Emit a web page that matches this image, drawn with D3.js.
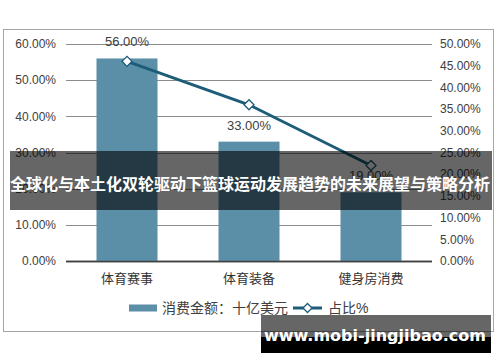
<!DOCTYPE html>
<html><head><meta charset="utf-8">
<script src="https://cdn.jsdelivr.net/npm/d3@7/dist/d3.min.js"></script>
<style>body{margin:0;background:#fff}svg{display:block}</style>
</head><body>
<svg id="c" width="500" height="362"></svg>
<script>
const categories = ["体育赛事", "体育装备", "健身房消费"];
const amountValues = [0.56, 0.33, 0.19];
const shareValues = [0.46, 0.36, 0.22];
const leftTicks = [0, 0.1, 0.2, 0.3, 0.4, 0.5, 0.6];
const rightTicks = [0, 0.05, 0.1, 0.15, 0.2, 0.25, 0.3, 0.35, 0.4, 0.45, 0.5];
const legendLabels = ["消费金额：十亿美元", "占比%"];
const titleText = "全球化与本土化双轮驱动下篮球运动发展趋势的未来展望与策略分析";
const watermarkText = "www.mobi-jingjibao.com";

const svg = d3.select("#c");
const font = "'Liberation Sans', Arial, 'Noto Sans CJK SC', sans-serif";
const barColor = "#5b8fa7", lineColor = "#1d5d78", textColor = "#404040";
const L = 66, R = 432, T = 44, B = 261;

svg.append("rect").attr("x", 3.5).attr("y", 29.5).attr("width", 490).attr("height", 302)
  .attr("fill", "#fff").attr("stroke", "#a6a6a6").attr("stroke-width", 1);

const x = d3.scaleBand().domain(categories).range([L, R]).paddingInner(0.5).paddingOuter(0.25);
const yL = d3.scaleLinear().domain([0, 0.6]).range([B, T]);
const yR = d3.scaleLinear().domain([0, 0.5]).range([B, T]);
const pct = d3.format(".2%");

// gridlines
svg.append("g").selectAll("line").data(leftTicks).join("line")
  .attr("x1", L).attr("x2", R)
  .attr("y1", d => Math.round(yL(d)) + 0.5).attr("y2", d => Math.round(yL(d)) + 0.5)
  .attr("stroke", d => d === 0 ? "#404040" : "#8c8c8c").attr("stroke-width", d => d === 0 ? 1.5 : 1);

// left axis labels
svg.append("g").selectAll("text").data(leftTicks).join("text")
  .attr("x", 56).attr("y", d => yL(d)).attr("dy", "0.35em").attr("text-anchor", "end")
  .attr("font-family", font).attr("font-size", 12).attr("fill", textColor).text(d => pct(d));

// right axis labels
svg.append("g").selectAll("text").data(rightTicks).join("text")
  .attr("x", 440).attr("y", d => yR(d)).attr("dy", "0.35em").attr("text-anchor", "start")
  .attr("font-family", font).attr("font-size", 12).attr("fill", textColor).text(d => pct(d));

// bars
svg.append("g").selectAll("rect").data(categories).join("rect")
  .attr("x", d => x(d)).attr("width", x.bandwidth())
  .attr("y", (d, i) => yL(amountValues[i])).attr("height", (d, i) => B - yL(amountValues[i]))
  .attr("fill", barColor);

// baseline on top
svg.append("line").attr("x1", L).attr("x2", R).attr("y1", B + 0.5).attr("y2", B + 0.5)
  .attr("stroke", "#404040").attr("stroke-width", 1.5);

// bar labels
svg.append("g").selectAll("text").data(categories).join("text")
  .attr("x", d => x(d) + x.bandwidth() / 2).attr("y", (d, i) => yL(amountValues[i]) - 12)
  .attr("text-anchor", "middle").attr("font-family", font).attr("font-size", 13)
  .attr("fill", textColor).text((d, i) => pct(amountValues[i]));

// line
const line = d3.line().x((d, i) => x(categories[i]) + x.bandwidth() / 2).y(d => yR(d));
svg.append("path").datum(shareValues).attr("d", line).attr("fill", "none")
  .attr("stroke", lineColor).attr("stroke-width", 3);
svg.append("g").selectAll("path").data(shareValues).join("path")
  .attr("transform", (d, i) => `translate(${x(categories[i]) + x.bandwidth() / 2},${yR(d)}) rotate(45)`)
  .attr("d", d3.symbol().type(d3.symbolSquare).size(50))
  .attr("fill", "#fff").attr("stroke", lineColor).attr("stroke-width", 1.3);

// category labels
svg.append("g").selectAll("text").data(categories).join("text")
  .attr("x", d => x(d) + x.bandwidth() / 2).attr("y", 283).attr("text-anchor", "middle")
  .attr("font-family", font).attr("font-size", 13).attr("fill", "#333").text(d => d);

// legend
const lg = svg.append("g");
lg.append("rect").attr("x", 129).attr("y", 304.5).attr("width", 28).attr("height", 7).attr("fill", barColor);
lg.append("text").attr("x", 162).attr("y", 308).attr("dy", "0.35em").attr("font-family", font)
  .attr("font-size", 14).attr("fill", textColor).text(legendLabels[0]);
lg.append("line").attr("x1", 293).attr("x2", 322).attr("y1", 308).attr("y2", 308)
  .attr("stroke", lineColor).attr("stroke-width", 3);
lg.append("path").attr("transform", "translate(307.5,308) rotate(45)")
  .attr("d", d3.symbol().type(d3.symbolSquare).size(40))
  .attr("fill", "#fff").attr("stroke", lineColor).attr("stroke-width", 1.3);
lg.append("text").attr("x", 328).attr("y", 308).attr("dy", "0.35em").attr("font-family", font)
  .attr("font-size", 14).attr("fill", textColor).text(legendLabels[1]);

// title overlay
svg.append("rect").attr("x", 10).attr("y", 151).attr("width", 482).attr("height", 59)
  .attr("fill", "rgba(0,0,0,0.6)");
svg.append("text").attr("x", 250).attr("y", 184).attr("dy", "0.35em").attr("text-anchor", "middle")
  .attr("font-family", "'Noto Sans CJK SC', sans-serif").attr("font-weight", "bold")
  .attr("font-size", 16).attr("fill", "#fff").text(titleText);

// watermark
svg.append("rect").attr("x", 261).attr("y", 315).attr("width", 230).attr("height", 22).attr("fill", "rgba(0,0,0,0.6)");
svg.append("rect").attr("x", 261).attr("y", 337).attr("width", 230).attr("height", 16).attr("fill", "#000");
svg.append("text").attr("x", 375).attr("y", 335).attr("dy", "0.35em").attr("text-anchor", "middle")
  .attr("font-family", "'DejaVu Sans', sans-serif").attr("font-weight", "bold")
  .attr("font-size", 16).attr("fill", "#fff").text(watermarkText);
</script>
</body></html>
